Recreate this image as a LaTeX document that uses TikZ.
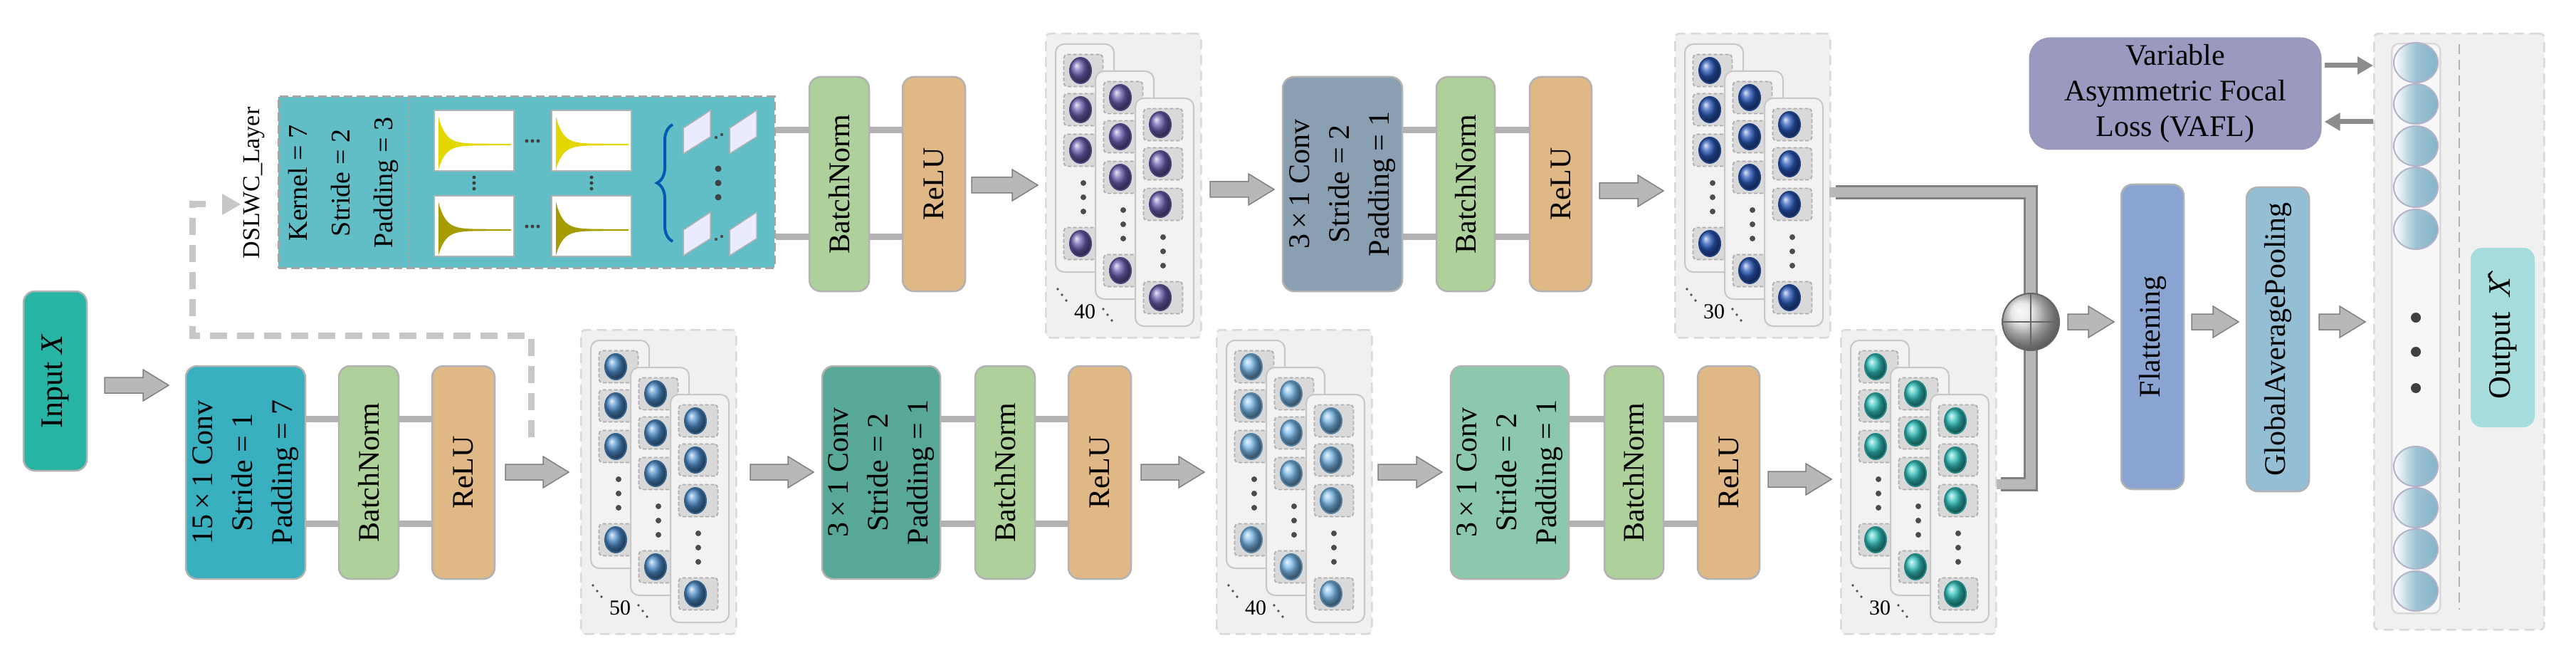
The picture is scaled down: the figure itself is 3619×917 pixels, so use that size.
\documentclass[tikz,border=0pt]{standalone}
\usepackage{fontspec}
\setmainfont{Liberation Serif}
\usetikzlibrary{arrows.meta,decorations.pathreplacing,shapes.geometric}
\definecolor{cinput}{HTML}{28B4A4}
\definecolor{cconva}{HTML}{38B0C0}
\definecolor{cbn}{HTML}{AED09A}
\definecolor{crelu}{HTML}{E0B886}
\definecolor{cconvb}{HTML}{58A898}
\definecolor{cconvc}{HTML}{8CC8AE}
\definecolor{cconvt}{HTML}{8AA0B2}
\definecolor{cdsl}{HTML}{62BEC6}
\definecolor{cflat}{HTML}{8AA4D2}
\definecolor{cgap}{HTML}{94BED4}
\definecolor{cout}{HTML}{A6DCDC}
\definecolor{cvafl}{HTML}{9A9AC0}
\definecolor{bpurple}{HTML}{6A60B0}
\definecolor{bdblue}{HTML}{2A58B8}
\definecolor{bmblue}{HTML}{4A8AC8}
\definecolor{blblue}{HTML}{78B8E8}
\definecolor{bteal}{HTML}{30C0BC}
\definecolor{ocirc}{HTML}{84B4C8}
\tikzset{
 blk/.style={draw=black!30, line width=2.5, rounded corners=16, inner sep=0, outer sep=0},
 rot/.style={rotate=90, align=center, font=\fontsize{42}{56}\selectfont},
 bar/.style={line width=9, color=black!30},
 arr/.style={fill=black!28, draw=black!50, line width=1.5},
 fmbg/.style={fill=black!6, draw=black!15, dashed, line width=2.5, rounded corners=6, dash pattern=on 14 off 8},
 card/.style={fill=black!5, draw=black!22, line width=2, rounded corners=12},
 sq/.style={fill=black!15, draw=black!32, dashed, line width=1.8, rounded corners=5, minimum width=55, minimum height=45, inner sep=0, dash pattern=on 5 off 3},
 plt/.style={fill=white, draw=black!30, line width=2},
 thin arr/.style={line width=7, color=black!45, -{Triangle[length=22,width=24]}},
}
\newcommand\blk[7]{\node[blk, fill=#6, minimum width={(#4)-(#2)}, minimum height={(#5)-(#3)}] (#1) at ({((#2)+(#4))/2},{((#3)+(#5))/2}) {};
 \node[rot] at (#1) {#7};}
\newcommand\barr[3]{\filldraw[arr] (#1,#3-11)--({#2-36},#3-11)--({#2-36},#3-22)--(#2,#3)--({#2-36},#3+22)--({#2-36},#3+11)--(#1,#3+11)--cycle;}
\newcommand\fmstack[5]{%
 \node[fmbg, minimum width=218, minimum height=427, anchor=north west] (#1) at (#2,#3) {};
 \foreach \dx/\dy in {14/15,70/53,126/91}{
  \node[card, anchor=north west, minimum width=82, minimum height=320] at (#2+\dx,#3+\dy) {};
  \foreach \r in {38,93,150,281}{
   \node[sq] at (#2+\dx+40,#3+\dy+\r) {};
   \shade[ball color=#4] (#2+\dx+36,#3+\dy+\r) ellipse (15 and 18);
   \draw[#4!70!black, line width=2] (#2+\dx+36,#3+\dy+\r) ellipse (15 and 18);}
  \foreach \r in {196,216,236} \fill[black!70] (#2+\dx+40,#3+\dy+\r) circle (4);
 }
 \node[font=\fontsize{30}{30}\selectfont] at (#2+56,#3+392) {#5};
 \foreach \k in {0,1,2}{\fill[black!70] (#2+18+6*\k,#3+360+8*\k) circle (1.8);
   \fill[black!70] (#2+82+6*\k,#3+388+8*\k) circle (1.8);}
}
\newcommand\plotbox[3]{%
 \filldraw[plt] (#1,#2) rectangle (#1+112,#2+85);
 \fill[#3] plot[domain=0:100,samples=50] ({#1+6+\x},{#2+48-38*exp(-\x/10)-1.2}) -- plot[domain=100:0,samples=50] ({#1+6+\x},{#2+48+34*exp(-\x/10)+1.2}) -- cycle;
 \draw[#3, line width=1.5] (#1+6,#2+48) -- (#1+108,#2+48);
}
\newcommand\para[2]{\filldraw[fill=blue!8!white, draw=black!30, line width=1.5] (#1,#2+25)--(#1+38,#2)--(#1+38,#2+37)--(#1,#2+61)--cycle;}
\begin{document}
\begin{tikzpicture}[x=1pt,y=-1pt]
\useasboundingbox (0,0) rectangle (3619,917);
% bottom row
\node[blk, fill=cinput, minimum width=89, minimum height=252] (input) at (77.5,535) {};
\node[rot, font=\fontsize{44}{50}\selectfont] at (input) {Input \textit{X}};
\blk{conv1}{261}{514}{429}{813}{cconva}{15\,×\,1 Conv\\Stride = 1\\Padding = 7}
\blk{bn1}{476}{514}{560}{813}{cbn}{BatchNorm}
\blk{relu1}{607}{514}{695}{813}{crelu}{ReLU}
\blk{conv2}{1155}{514}{1321}{813}{cconvb}{3\,×\,1 Conv\\Stride = 2\\Padding = 1}
\blk{bn2}{1370}{514}{1454}{813}{cbn}{BatchNorm}
\blk{relu2}{1501}{514}{1589}{813}{crelu}{ReLU}
\blk{conv3}{2038}{514}{2204}{813}{cconvc}{3\,×\,1 Conv\\Stride = 2\\Padding = 1}
\blk{bn3}{2254}{514}{2337}{813}{cbn}{BatchNorm}
\blk{relu3}{2385}{514}{2472}{813}{crelu}{ReLU}
\foreach \a/\b in {conv1/bn1,bn1/relu1,conv2/bn2,bn2/relu2,conv3/bn3,bn3/relu3}{
 \draw[bar] (\a.east |- 0,588) -- (\b.west |- 0,588);
 \draw[bar] (\a.east |- 0,735) -- (\b.west |- 0,735);}
% top row
\node[fill=cdsl, draw=black!35, dashed, line width=3, dash pattern=on 12 off 6, minimum width=697, minimum height=240, inner sep=0] (dsl) at (739.5,256) {};
\draw[black!35, dashed, line width=1.5] (574,138) -- (574,374);
\node[rot, font=\fontsize{38}{60}\selectfont] at (482,257) {Kernel = 7\\Stride = 2\\Padding = 3};
\node[rot, font=\fontsize{34}{40}\selectfont] (dsllab) at (357,257) {DSLWC\_Layer};
\plotbox{610}{155}{yellow!75!olive}
\plotbox{775}{155}{yellow!75!olive}
\plotbox{610}{275}{olive!80!yellow}
\plotbox{775}{275}{olive!80!yellow}
\foreach \x/\y in {748/198,748/318} \foreach \k in {-8,0,8} \fill[black!75] (\x+\k,\y) circle (2.5);
\foreach \x in {666,831} \foreach \k in {-8,0,8} \fill[black!75] (\x,257+\k) circle (2.5);
\draw[decorate, decoration={brace, amplitude=22}, line width=4, color=blue!50!cyan!70!black] (945,339) -- (945,175);
\para{960}{155}\para{1025}{155}\para{960}{298}\para{1025}{298}
\foreach \y in {193,336} {\fill[black!70] (1006,\y) circle (2.2); \fill[black!70] (1014,\y-4) circle (2.2);}
\foreach \y in {237,257,277} \fill[black!75] (1009,\y) circle (4.5);
\blk{bnt1}{1137}{108}{1221}{409}{cbn}{BatchNorm}
\blk{relut1}{1268}{108}{1356}{409}{crelu}{ReLU}
\blk{convt}{1802}{108}{1970}{409}{cconvt}{3\,×\,1 Conv\\Stride = 2\\Padding = 1}
\blk{bnt2}{2018}{108}{2100}{409}{cbn}{BatchNorm}
\blk{relut2}{2149}{108}{2236}{409}{crelu}{ReLU}
\foreach \a/\b in {dsl/bnt1,bnt1/relut1,convt/bnt2,bnt2/relut2}{
 \draw[bar] (\a.east |- 0,183) -- (\b.west |- 0,183);
 \draw[bar] (\a.east |- 0,332) -- (\b.west |- 0,332);}
% dashed branch
\draw[line width=9, color=black!22, dash pattern=on 24 off 14] (746,614) -- (746,471) -- (270,471) -- (270,287) -- (302,287);
\fill[black!22] (312,272) -- (338,287) -- (312,302) -- cycle;
% stacks
\fmstack{fm1}{815}{462}{bmblue}{50}
\fmstack{fm2}{1708}{462}{blblue}{40}
\fmstack{fm3}{2585}{462}{bteal}{30}
\fmstack{fmt1}{1468}{46}{bpurple}{40}
\fmstack{fmt2}{2352}{46}{bdblue}{30}
% arrows
\barr{147}{237}{541}
\barr{710}{799}{663}
\barr{1054}{1143}{663}
\barr{1603}{1692}{663}
\barr{1936}{2026}{663}
\barr{2484}{2573}{673}
\barr{1365}{1458}{260}
\barr{1700}{1790}{266}
\barr{2247}{2337}{268}
\barr{2905}{2970}{452}
\barr{3079}{3145}{452}
\barr{3258}{3323}{452}
% skip connection
\draw[line width=20, color=black!50] (2579,270) -- (2853,270) -- (2853,680) -- (2811,680);
\draw[line width=14, color=black!28] (2570,270) -- (2853,270) -- (2853,680) -- (2805,680);
\node[circle, draw=black!60, line width=2, minimum size=80, inner sep=0, shading=ball, ball color=white!60!black!30] (sum) at (2853,452) {};
\draw[black!60, line width=2] (sum.north) -- (sum.south) (sum.west) -- (sum.east);
% right part
\blk{flat}{2980}{259}{3068}{687}{cflat}{Flattening}
\blk{gap}{3156}{263}{3244}{690}{cgap}{GlobalAveragePooling}
\node[fmbg, minimum width=239, minimum height=837, anchor=north west] (outbg) at (3334,46) {};
\node[fill=black!3, draw=black!15, line width=2.5, rounded corners=10, minimum width=68, minimum height=800, anchor=north west] (outcol) at (3359,60) {};
\draw[black!30, dashed, line width=2.5, dash pattern=on 14 off 8] (3455,62) -- (3455,856);
\foreach \y in {88,146,205,263,322,655,713,771,830}
 \filldraw[left color=white, right color=ocirc, middle color=ocirc!80!white, draw=blue!30!black!30, line width=2] (3394,\y) ellipse (31 and 28);
\foreach \y in {446,494,545} \fill[black!75] (3394,\y) circle (7);
\node[fill=cout, rounded corners=16, minimum width=90, minimum height=252, inner sep=0] (out) at (3516,474) {};
\node[rot, font=\fontsize{44}{50}\selectfont] at (out) {Output\ \ \^{\textit{X}}};
\node[fill=cvafl, draw=blue!35!black!40, line width=3, rounded corners=28, minimum width=408, minimum height=155, inner sep=0, align=center, font=\fontsize{42}{50}\selectfont] (vafl) at (3056,131.5) {Variable\\Asymmetric Focal\\Loss (VAFL)};
\draw[thin arr] ([xshift=4]vafl.east |- 0,92) -- (outbg.west |- 0,92);
\draw[thin arr] (outbg.west |- 0,171) -- ([xshift=4]vafl.east |- 0,171);
\end{tikzpicture}
\end{document}
